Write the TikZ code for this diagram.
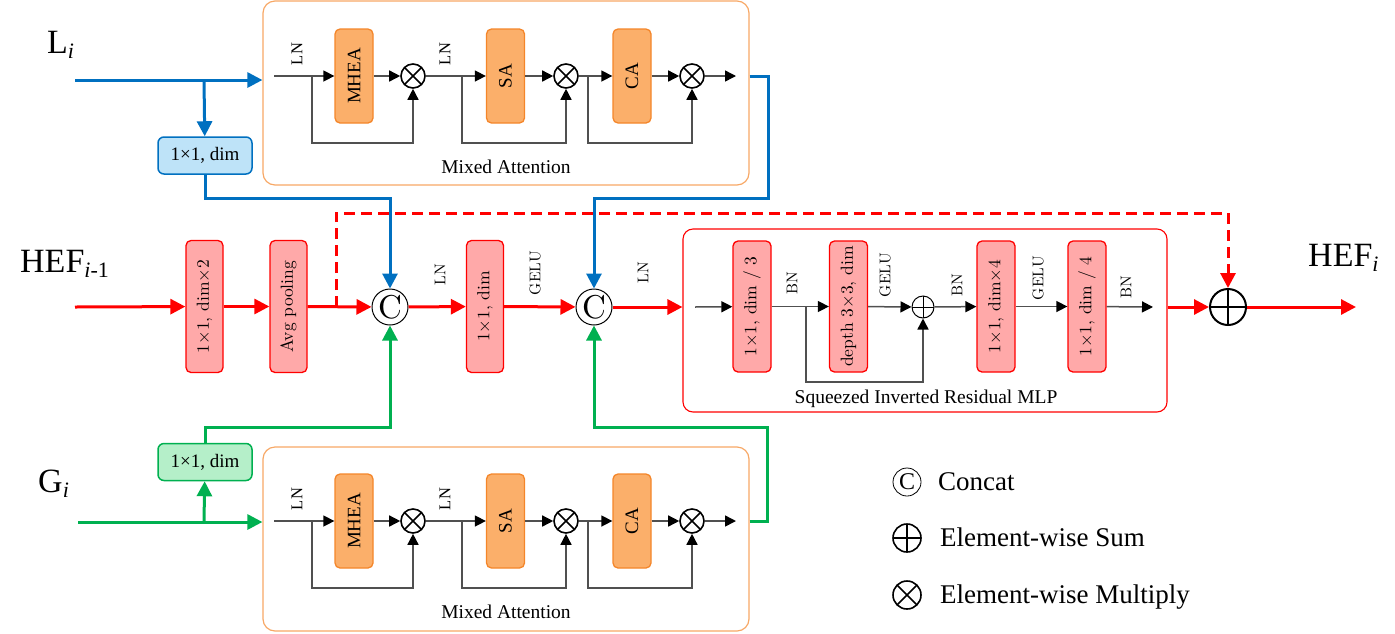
\documentclass[tikz,border=0pt]{standalone}
\usepackage{fontspec}
\newfontfamily\tnr{Liberation Serif}
\newfontfamily\lmten{lmroman10-regular.otf}
\usetikzlibrary{arrows.meta}
\definecolor{cblue}{HTML}{0070C0}
\definecolor{cgreen}{HTML}{00B050}
\definecolor{cred}{HTML}{FF0000}
\definecolor{redfill}{HTML}{FFA9A9}
\definecolor{orfill}{HTML}{FBAF6A}
\definecolor{ordraw}{HTML}{F4862A}
\definecolor{maborder}{HTML}{F7A866}
\definecolor{bluefill}{HTML}{BEE3F8}
\definecolor{greenfill}{HTML}{B5EFC9}
\definecolor{glc}{HTML}{505050}
\begin{document}
\begin{tikzpicture}[x=1pt,y=-1pt,
  colarrow/.style={line width=3pt,-{Triangle[length=15pt,width=15pt]}},
  bluel/.style={colarrow,draw=cblue},
  greenl/.style={colarrow,draw=cgreen},
  redl/.style={colarrow,draw=cred},
  gl/.style={line width=1.5pt,draw=glc,-{Triangle[length=11pt,width=11pt,color=black]}},
  redbox/.style={draw=cred,fill=redfill,line width=1.3pt,rounded corners=5pt,rotate=90,
    minimum width=132pt,minimum height=37pt,inner sep=0pt,font=\lmten\fontsize{17.5}{17.5}\selectfont},
  orbox/.style={draw=ordraw,fill=orfill,line width=1.3pt,rounded corners=5pt,rotate=90,
    minimum width=94pt,minimum height=38pt,inner sep=0pt,font=\tnr\fontsize{19}{19}\selectfont},
  mabox/.style={draw=maborder,line width=1.2pt,rounded corners=12pt,minimum width=486pt,minimum height=184pt},
  sirmbox/.style={draw=cred,line width=1.1pt,rounded corners=10pt,minimum width=484pt,minimum height=183pt},
  convbox/.style={rounded corners=6pt,line width=1.5pt,minimum width=94pt,minimum height=37pt,
    inner sep=0pt,font=\tnr\fontsize{19}{19}\selectfont},
  mult/.style={circle,draw,line width=1.6pt,minimum size=24pt,inner sep=0pt,
    path picture={\draw[line width=1.6pt] (path picture bounding box.north west)--(path picture bounding box.south east)
      (path picture bounding box.north east)--(path picture bounding box.south west);}},
  plus/.style={circle,draw,line width=#1,inner sep=0pt,
    path picture={\draw[line width=#1] (path picture bounding box.north)--(path picture bounding box.south)
      (path picture bounding box.west)--(path picture bounding box.east);}},
  concat/.style={circle,draw,line width=1pt,minimum size=36pt,inner sep=0pt,font=\lmten\fontsize{33}{33}\selectfont},
  lab/.style={rotate=90,inner sep=0pt,font=\lmten\fontsize{15.5}{15.5}\selectfont},
  malab/.style={rotate=90,inner sep=0pt,font=\tnr\fontsize{16.5}{16.5}\selectfont},
  big/.style={anchor=base west,inner sep=0pt,font=\tnr\fontsize{34}{34}\selectfont},
  legtxt/.style={anchor=base west,inner sep=0pt,font=\tnr\fontsize{27}{27}\selectfont},
  captxt/.style={anchor=base,inner sep=0pt,font=\tnr\fontsize{19.5}{19.5}\selectfont}
]
\useasboundingbox (0,0) rectangle (1395,633);

% ---------- Mixed Attention blocks ----------
\foreach \p/\yy/\bc/\lb in {T/76/93/173,B/521/539/618}{
  \node[mabox] (ma\p) at (506,\bc) {};
  \node[captxt] (mal\p) at (506,\lb) {Mixed Attention};
  \coordinate (tA\p) at (274,\yy);
  \coordinate (tS1\p) at (312,\yy);
  \node[orbox] (mhea\p) at (354,\yy) {MHEA};
  \node[mult] (x1\p) at (413,\yy) {};
  \coordinate (tS2\p) at (462,\yy);
  \node[orbox] (sa\p) at (505.5,\yy) {SA};
  \node[mult] (x2\p) at (566,\yy) {};
  \coordinate (tS3\p) at (588,\yy);
  \node[orbox] (ca\p) at (632,\yy) {CA};
  \node[mult] (x3\p) at (692,\yy) {};
  \coordinate (tZ\p) at (736,\yy);
  \node[malab] (ln1\p) at (297,\yy-22) {LN};
  \node[malab] (ln2\p) at (445,\yy-22) {LN};
  \draw[gl] (tA\p) -- (mhea\p);
  \draw[gl] (mhea\p) -- (x1\p);
  \draw[gl] (tS1\p) -- ++(0,67) -| (x1\p.south);
  \draw[gl] (x1\p) -- (sa\p);
  \draw[gl] (sa\p) -- (x2\p);
  \draw[gl] (tS2\p) -- ++(0,67) -| (x2\p.south);
  \draw[gl] (x2\p) -- (ca\p);
  \draw[gl] (ca\p) -- (x3\p);
  \draw[gl] (tS3\p) -- ++(0,67) -| (x3\p.south);
  \draw[gl] (x3\p) -- (tZ\p);
}

% ---------- labels ----------
\node[big] (Li) at (47,53) {L\raisebox{-5pt}{\fontsize{22}{22}\selectfont\textit{i}}};
\node[big] (Gi) at (38,492) {G\raisebox{-5pt}{\fontsize{22}{22}\selectfont\textit{i}}};
\node[big] (Hin) at (20,272) {HEF\raisebox{-5pt}{\fontsize{22}{22}\selectfont\textit{i}-1}};
\node[big] (Hout) at (1308,266) {HEF\raisebox{-5pt}{\fontsize{22}{22}\selectfont\textit{i}}};

% ---------- main red path ----------
\node[redbox] (r1) at (204.5,306.5) {1×1, dim×2};
\node[redbox] (r2) at (288.5,306.5) {Avg pooling};
\node[concat] (c1) at (390,307) {C};
\node[redbox] (r3) at (485,306.5) {1×1, dim};
\node[concat] (c2) at (594,307) {C};
\node[lab] (lnA) at (440,275) {LN};
\node[lab] (geA) at (535,273) {GELU};
\node[lab] (lnB) at (643,273) {LN};

\node[sirmbox] (sirm) at (925,320.5) {};
\node[captxt] (sirml) at (926,403) {Squeezed Inverted Residual MLP};
\node[plus=2pt,minimum size=36pt] (sum) at (1228,307) {};

\coordinate (hin) at (75,307);
\coordinate (dsplit) at (336,307);
\coordinate (dtop) at (1228,213);
\coordinate (hout) at (1356,307);

\draw[redl] (hin) -- (r1);
\draw[redl] (r1) -- (r2);
\draw[redl] (r2) -- (c1);
\draw[redl] (c1) -- (r3);
\draw[redl] (r3) -- (c2);
\draw[redl] (c2) -- (c2 -| sirm.west);
\draw[redl] (sirm.east |- sum) -- (sum);
\draw[redl] (sum) -- (hout);
\draw[redl,dash pattern=on 11pt off 6pt] (dsplit) |- (dtop) -- (sum);

% ---------- SIRM inner ----------
\coordinate (s0) at (695,307);
\node[redbox,minimum width=131pt,minimum height=38pt] (q1) at (752,306.5) {1×1, dim / 3};
\coordinate (sbr) at (806,307);
\node[redbox,minimum width=131pt,minimum height=38pt] (q2) at (848.5,306.5) {depth 3×3, dim};
\node[plus=1pt,minimum size=22pt] (sp) at (923,307) {};
\node[redbox,minimum width=131pt,minimum height=38pt] (q3) at (996,306.5) {1×1, dim×4};
\node[redbox,minimum width=131pt,minimum height=38pt] (q4) at (1087,306.5) {1×1, dim / 4};
\coordinate (s9) at (1153,307);
\node[lab] (bn1) at (792,283) {BN};
\node[lab] (ge1) at (885,275) {GELU};
\node[lab] (bn2) at (957,285) {BN};
\node[lab] (ge2) at (1038,278) {GELU};
\node[lab] (bn3) at (1126,287) {BN};
\draw[gl] (s0) -- (q1);
\draw[gl] (q1) -- (q2);
\draw[gl] (q2) -- (sp);
\draw[gl] (sbr) -- ++(0,75) -| (sp.south);
\draw[gl] (sp) -- (q3);
\draw[gl] (q3) -- (q4);
\draw[gl] (q4) -- (s9);

% ---------- blue branch ----------
\node[convbox,draw=cblue,fill=bluefill] (blueT) at (205,155.5) {1×1, dim};
\coordinate (lin) at (75,80);
\coordinate (lbr) at (204,80);
\coordinate (bj) at (390,198);
\coordinate (bk) at (768,198);
\draw[bluel] (lin) -- (lin -| maT.west);
\draw[bluel] (lbr) -- (blueT);
\draw[bluel] (blueT.south) |- (bj) -- (c1);
\draw[bluel] (maT.east |- tZT) -| (bk) -| (c2);

% ---------- green branch ----------
\node[convbox,draw=cgreen,fill=greenfill] (greenB) at (205,462) {1×1, dim};
\coordinate (gin) at (78,522);
\coordinate (gbr) at (204,522);
\coordinate (gj) at (390,427);
\coordinate (gk) at (767,427);
\draw[greenl] (gin) -- (gin -| maB.west);
\draw[greenl] (gbr) -- (greenB);
\draw[greenl] (greenB.north) |- (gj) -- (c1);
\draw[greenl] (maB.east |- tZB) -| (gk) -| (c2);

% ---------- legend ----------
\node[concat,minimum size=28pt,line width=0.8pt,font=\tnr\fontsize{24}{24}\selectfont] (lc) at (907,482) {C};
\node[legtxt] (lct) at (938,490) {Concat};
\node[plus=1.6pt,minimum size=28pt] (lp) at (907,538) {};
\node[legtxt] (lpt) at (940,546) {Element-wise Sum};
\node[mult,minimum size=28pt] (lm) at (907,595) {};
\node[legtxt] (lmt) at (940,603) {Element-wise Multiply};
\end{tikzpicture}
\end{document}
